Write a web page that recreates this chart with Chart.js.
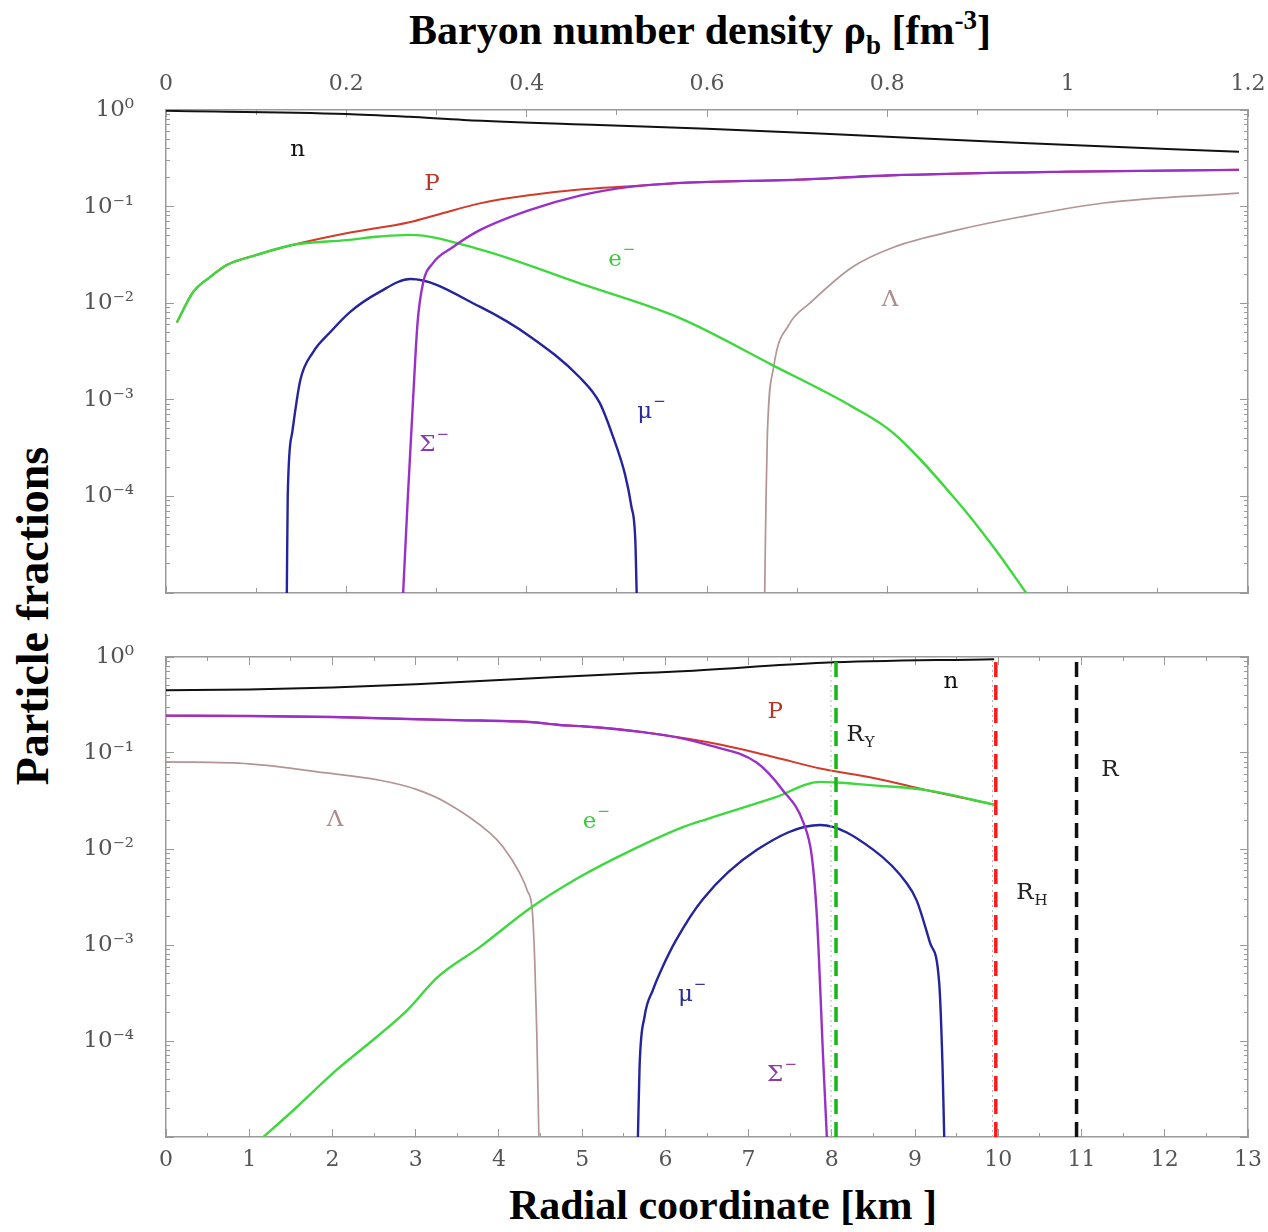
<!DOCTYPE html>
<html>
<head>
<meta charset="utf-8">
<title>Particle fractions</title>
<script src="https://cdn.jsdelivr.net/npm/chart.js@4.4.1/dist/chart.umd.min.js"></script>
<style>
  html, body { margin: 0; padding: 0; background: #fff; }
  #page { position: relative; width: 1268px; height: 1232px; overflow: hidden; background: #fff; }
  canvas { position: absolute; left: 0; }
  #densityChart { top: 60px; }
  #radiusChart { top: 620px; }
  .axis-title {
    position: absolute;
    font-family: 'Liberation Serif', 'Times New Roman', serif;
    font-weight: bold;
    font-size: 42px;
    color: #000;
    white-space: nowrap;
    transform: translate(-50%, -50%);
  }
  .axis-title sub, .axis-title sup { font-size: 27px; }
  #titleTop { left: 700px; top: 33px; }
  #titleBottom { left: 723px; top: 1205px; }
  #titleLeft { left: 32px; top: 616px; font-size: 46px; transform: translate(-50%, -50%) rotate(-90deg); }
</style>
</head>
<body>
<div id="page">
  <div class="axis-title" id="titleTop">Baryon number density &rho;<sub>b</sub> [fm<sup>-3</sup>]</div>
  <div class="axis-title" id="titleLeft">Particle fractions</div>
  <div class="axis-title" id="titleBottom">Radial coordinate [km ]</div>
  <canvas id="densityChart" width="1268" height="560"></canvas>
  <canvas id="radiusChart" width="1268" height="570"></canvas>
</div>
<script>
// ---- tick values and labels ----
const densityTicks = [0, 0.2, 0.4, 0.6, 0.8, 1, 1.2];
const densityTickLabels = ['0', '0.2', '0.4', '0.6', '0.8', '1', '1.2'];
const radiusTicks = [0, 1, 2, 3, 4, 5, 6, 7, 8, 9, 10, 11, 12, 13];
const radiusTickLabels = ['0', '1', '2', '3', '4', '5', '6', '7', '8', '9', '10', '11', '12', '13'];
const fractionTicks = [1e-4, 1e-3, 1e-2, 1e-1, 1];
const fractionTickLabels = ['10\u207B\u2074', '10\u207B\u00B3', '10\u207B\u00B2', '10\u207B\u00B9', '10\u2070'];

// ---- upper panel: fractions vs baryon density [fm^-3] ----
const densityN = [0, 0.2, 0.27, 0.33, 0.48, 0.6, 0.76, 0.95, 1.19];
const fractionN = [0.98, 0.91, 0.85, 0.79, 0.70, 0.64, 0.55, 0.455, 0.37];

const densityP = [0.012, 0.03, 0.049, 0.068, 0.1, 0.14, 0.2, 0.27, 0.3, 0.348, 0.4, 0.459, 0.52, 0.57, 0.7, 0.8, 1.0, 1.19];
const fractionP = [0.0063, 0.013, 0.0187, 0.025, 0.0315, 0.040, 0.053, 0.069, 0.082, 0.108, 0.13, 0.15, 0.163, 0.176, 0.19, 0.21, 0.23, 0.24];

const densityE = [0.012, 0.03, 0.049, 0.068, 0.1, 0.14, 0.2, 0.237, 0.27, 0.348, 0.459, 0.57, 0.672, 0.761, 0.807, 0.877, 0.92, 0.954];
const fractionE = [0.0063, 0.013, 0.0187, 0.025, 0.0315, 0.040, 0.045, 0.049, 0.051, 0.036, 0.016, 0.0070, 0.0023, 8.5e-4, 4.5e-4, 9e-5, 2.8e-5, 1e-5];

const densityMu = [0.134, 0.135, 0.140, 0.149, 0.163, 0.182, 0.204, 0.237, 0.271, 0.348, 0.404, 0.459, 0.481, 0.496, 0.509, 0.516, 0.5205, 0.522];
const fractionMu = [1e-5, 1e-4, 4.6e-4, 1.6e-3, 3.1e-3, 5.0e-3, 8.1e-3, 0.0131, 0.0178, 0.0092, 0.0045, 0.0017, 9.3e-4, 4.1e-4, 1.7e-4, 8e-5, 3.5e-5, 1e-5];

const densitySigma = [0.263, 0.268, 0.274, 0.279, 0.285, 0.296, 0.318, 0.348, 0.403, 0.459, 0.514, 0.57, 0.7, 0.8, 1.0, 1.19];
const fractionSigma = [1e-5, 9e-5, 1e-3, 0.0063, 0.016, 0.026, 0.038, 0.057, 0.092, 0.13, 0.16, 0.176, 0.19, 0.21, 0.23, 0.24];

const densityLambda = [0.664, 0.6655, 0.667, 0.674, 0.691, 0.714, 0.761, 0.807, 0.877, 0.947, 1.04, 1.19];
const fractionLambda = [1e-5, 1e-4, 4.5e-4, 2.2e-3, 6.0e-3, 0.0100, 0.0236, 0.038, 0.057, 0.078, 0.109, 0.138];

// ---- lower panel: fractions vs radial coordinate [km] ----
const radiusN = [0, 1, 2, 3, 4.7, 5.7, 6.2, 7.9, 9.95];
const fractionNr = [0.45, 0.46, 0.48, 0.52, 0.62, 0.68, 0.71, 0.87, 0.95];

const radiusP = [0, 1, 2, 2.57, 3.5, 4.37, 4.73, 5.0, 5.5, 6.5, 7.3, 7.86, 8.5, 9.14, 9.95];
const fractionPr = [0.245, 0.243, 0.237, 0.23, 0.22, 0.21, 0.196, 0.19, 0.175, 0.13, 0.091, 0.069, 0.055, 0.041, 0.029];

const radiusE = [1.17, 1.53, 2.05, 2.53, 2.9, 3.26, 3.77, 4.37, 4.97, 5.57, 6.18, 6.5, 7.3, 7.86, 8.1, 8.5, 9.14, 9.95];
const fractionEr = [1e-5, 1.9e-5, 5e-5, 1.1e-4, 2.1e-4, 4.6e-4, 9.5e-4, 2.4e-3, 5.1e-3, 9.5e-3, 0.0165, 0.0205, 0.034, 0.050, 0.049, 0.046, 0.041, 0.029];

const radiusMu = [5.67, 5.69, 5.75, 5.85, 5.95, 6.13, 6.45, 7.1, 7.86, 8.5, 8.9, 9.02, 9.18, 9.29, 9.33, 9.35];
const fractionMuR = [1e-5, 5.5e-5, 1.8e-4, 3.4e-4, 5.5e-4, 1.13e-3, 3.0e-3, 9.8e-3, 0.0178, 0.0098, 0.0044, 2.9e-3, 1.05e-3, 4e-4, 5.4e-5, 1e-5];

const radiusSigma = [0, 1, 2, 2.57, 3.5, 4.37, 4.73, 5.0, 5.7, 6.2, 6.5, 7.1, 7.41, 7.66, 7.76, 7.82, 7.9, 7.94];
const fractionSigmaR = [0.245, 0.243, 0.237, 0.23, 0.22, 0.21, 0.196, 0.19, 0.166, 0.142, 0.122, 0.079, 0.041, 0.0187, 0.0083, 0.002, 5.4e-5, 1e-5];

const radiusLambda = [0, 1, 1.93, 2.57, 3.0, 3.38, 3.89, 4.05, 4.25, 4.34, 4.40, 4.43, 4.455, 4.48];
const fractionLambdaR = [0.081, 0.077, 0.062, 0.052, 0.042, 0.030, 0.0147, 0.0105, 0.0056, 3.7e-3, 2.3e-3, 7e-4, 1.2e-4, 1e-5];

// boundary radii: hyperon core, hadronic core, star surface
const radiusHyperon = 8.05;
const radiusHadron = 9.97;
const radiusStar = 10.94;
const radiusGuides = [7.99, 9.93];

const FRAME = '#9a9a9a';
const LABEL_FONT = '"DejaVu Serif", serif';

function pairs(xs, ys) {
  return xs.map((x, i) => ({ x: x, y: ys[i] }));
}

function minorLogTicks(lo, hi) {
  const out = [];
  for (let e = lo; e < hi; e++) {
    for (let k = 2; k <= 9; k++) out.push(k * Math.pow(10, e));
  }
  return out;
}

function steps(lo, hi, step) {
  const out = [];
  const n = Math.round((hi - lo) / step);
  for (let i = 0; i <= n; i++) out.push(+(lo + i * step).toFixed(6));
  return out;
}

// one edge of the frame: a tick set drawn inward, optionally with labels and the border
function edge(type, position, min, max, values, tickLen, o) {
  o = o || {};
  const cfg = {
    type: type,
    position: position,
    min: min,
    max: max,
    weight: o.outer ? 1 : 0,
    afterBuildTicks: function (s) { s.ticks = values.map(function (v) { return { value: v }; }); },
    afterFit: function (s) {
      if (s.isHorizontal()) s.height = o.size || 0; else s.width = o.size || 0;
      // keep label overhang from shrinking the plot area
      s.paddingLeft = s.paddingRight = s.paddingTop = s.paddingBottom = 0;
    },
    border: { display: !!o.outer, color: FRAME, width: 1.5 },
    grid: { display: true, drawOnChartArea: false, drawTicks: true, tickLength: -tickLen, tickColor: FRAME, tickWidth: 1 },
    ticks: { display: false }
  };
  if (o.labels) {
    cfg.ticks = {
      display: true, autoSkip: false, maxRotation: 0, minRotation: 0,
      padding: o.pad, color: '#555',
      font: { family: LABEL_FONT, size: o.fontSize || 22 },
      callback: function (v, i) { return o.labels[i] || ''; }
    };
  }
  return cfg;
}

function line(label, data, color, width) {
  return {
    label: label, data: data, borderColor: color, borderWidth: width,
    pointRadius: 0, fill: false, cubicInterpolationMode: 'monotone'
  };
}

function marker(r, color, width, dash) {
  return {
    label: 'r=' + r, data: [{ x: r, y: 1e-5 }, { x: r, y: 1 }],
    borderColor: color, borderWidth: width, borderDash: dash,
    pointRadius: 0, fill: false, tension: 0
  };
}

// text tags next to the curves, placed in data coordinates
const curveTags = {
  id: 'curveTags',
  afterDatasetsDraw: function (chart, args, opts) {
    const ctx = chart.ctx;
    const xs = chart.scales.x, ys = chart.scales.y;
    opts.items.forEach(function (m) {
      const px = xs.getPixelForValue(m.x);
      const py = ys.getPixelForValue(m.y);
      ctx.save();
      ctx.fillStyle = m.color;
      ctx.textBaseline = 'middle';
      ctx.font = '23px ' + LABEL_FONT;
      const w = ctx.measureText(m.text).width;
      const x0 = px - w / 2;
      ctx.fillText(m.text, x0, py);
      ctx.font = '15px ' + LABEL_FONT;
      if (m.sup) ctx.fillText(m.sup, x0 + w + 1, py - 10);
      if (m.sub) ctx.fillText(m.sub, x0 + w + 1, py + 8);
      ctx.restore();
    });
  }
};

function baseOptions(scales, tags) {
  return {
    responsive: false,
    animation: false,
    devicePixelRatio: 1,
    layout: { padding: 0, autoPadding: false },
    plugins: { legend: { display: false }, tooltip: { enabled: false }, curveTags: { items: tags } },
    scales: scales
  };
}

const logMinor = minorLogTicks(-5, 0);
const logMajor = [1e-5].concat(fractionTicks);

// ---- upper chart ----
new Chart(document.getElementById('densityChart'), {
  type: 'line',
  data: {
    datasets: [
      line('Σ-', pairs(densitySigma, fractionSigma), '#9a30c8', 2.4),
      line('μ-', pairs(densityMu, fractionMu), '#24249c', 2.4),
      line('e-', pairs(densityE, fractionE), '#3ed83e', 2.4),
      line('p', pairs(densityP, fractionP), '#d23a2a', 2),
      line('Λ', pairs(densityLambda, fractionLambda), '#b49494', 1.7),
      line('n', pairs(densityN, fractionN), '#111111', 2)
    ]
  },
  options: baseOptions({
    x: edge('linear', 'top', 0, 1.2, densityTicks, 7, { outer: true, size: 50, labels: densityTickLabels, pad: 20 }),
    xm: edge('linear', 'top', 0, 1.2, steps(0, 1.2, 0.1), 5),
    x2: edge('linear', 'bottom', 0, 1.2, densityTicks, 7, { outer: true, size: 27 }),
    x2m: edge('linear', 'bottom', 0, 1.2, steps(0, 1.2, 0.1), 5),
    y: edge('logarithmic', 'left', 1e-5, 1, logMajor, 8, { outer: true, size: 166, labels: [''].concat(fractionTickLabels), pad: 40, fontSize: 23 }),
    ym: edge('logarithmic', 'left', 1e-5, 1, logMinor, 4),
    y2: edge('logarithmic', 'right', 1e-5, 1, logMajor, 8, { outer: true, size: 20 }),
    y2m: edge('logarithmic', 'right', 1e-5, 1, logMinor, 4)
  }, [
    { text: 'n', x: 0.146, y: 0.385, color: '#111' },
    { text: 'P', x: 0.295, y: 0.171, color: '#b8352a' },
    { text: 'e', sup: '\u2212', x: 0.498, y: 0.028, color: '#3cc83c' },
    { text: 'Λ', x: 0.803, y: 0.0108, color: '#b08a8a' },
    { text: 'μ', sup: '\u2212', x: 0.531, y: 7.5e-4, color: '#2a2a9a' },
    { text: 'Σ', sup: '\u2212', x: 0.290, y: 3.4e-4, color: '#8a3aaa' }
  ]),
  plugins: [curveTags]
});

// ---- lower chart ----
new Chart(document.getElementById('radiusChart'), {
  type: 'line',
  data: {
    datasets: [
      marker(radiusHyperon, '#16b816', 3.5, [15, 8]),
      marker(radiusHadron, '#ff1a1a', 3.5, [15, 8]),
      marker(radiusStar, '#111111', 3.5, [15, 8]),
      marker(radiusGuides[0], '#b8b8b8', 1, [2, 3]),
      marker(radiusGuides[1], '#b8b8b8', 1, [2, 3]),
      line('Σ-', pairs(radiusSigma, fractionSigmaR), '#9a30c8', 2.4),
      line('μ-', pairs(radiusMu, fractionMuR), '#24249c', 2.4),
      line('e-', pairs(radiusE, fractionEr), '#3ed83e', 2.4),
      line('p', pairs(radiusP, fractionPr), '#d23a2a', 2),
      line('Λ', pairs(radiusLambda, fractionLambdaR), '#b49494', 1.7),
      line('n', pairs(radiusN, fractionNr), '#111111', 2)
    ]
  },
  options: baseOptions({
    x: edge('linear', 'bottom', 0, 13, radiusTicks, 8, { outer: true, size: 53, labels: radiusTickLabels, pad: 18 }),
    xm: edge('linear', 'bottom', 0, 13, steps(0, 13, 0.5), 4),
    x2: edge('linear', 'top', 0, 13, radiusTicks, 8, { outer: true, size: 37 }),
    x2m: edge('linear', 'top', 0, 13, steps(0, 13, 0.5), 4),
    y: edge('logarithmic', 'left', 1e-5, 1, logMajor, 8, { outer: true, size: 166, labels: [''].concat(fractionTickLabels), pad: 40, fontSize: 23 }),
    ym: edge('logarithmic', 'left', 1e-5, 1, logMinor, 4),
    y2: edge('logarithmic', 'right', 1e-5, 1, logMajor, 8, { outer: true, size: 20 }),
    y2m: edge('logarithmic', 'right', 1e-5, 1, logMinor, 4)
  }, [
    { text: 'n', x: 9.43, y: 0.55, color: '#111' },
    { text: 'P', x: 7.32, y: 0.267, color: '#b8352a' },
    { text: 'R', sub: 'Y', x: 8.28, y: 0.154, color: '#222' },
    { text: 'R', x: 11.34, y: 0.0665, color: '#222' },
    { text: 'Λ', x: 2.03, y: 0.02, color: '#b08a8a' },
    { text: 'e', sup: '\u2212', x: 5.09, y: 0.019, color: '#3cc83c' },
    { text: 'R', sub: 'H', x: 10.32, y: 3.5e-3, color: '#222' },
    { text: 'μ', sup: '\u2212', x: 6.24, y: 3.0e-4, color: '#2a2a9a' },
    { text: 'Σ', sup: '\u2212', x: 7.32, y: 4.4e-5, color: '#8a3aaa' }
  ]),
  plugins: [curveTags]
});
</script>
</body>
</html>
